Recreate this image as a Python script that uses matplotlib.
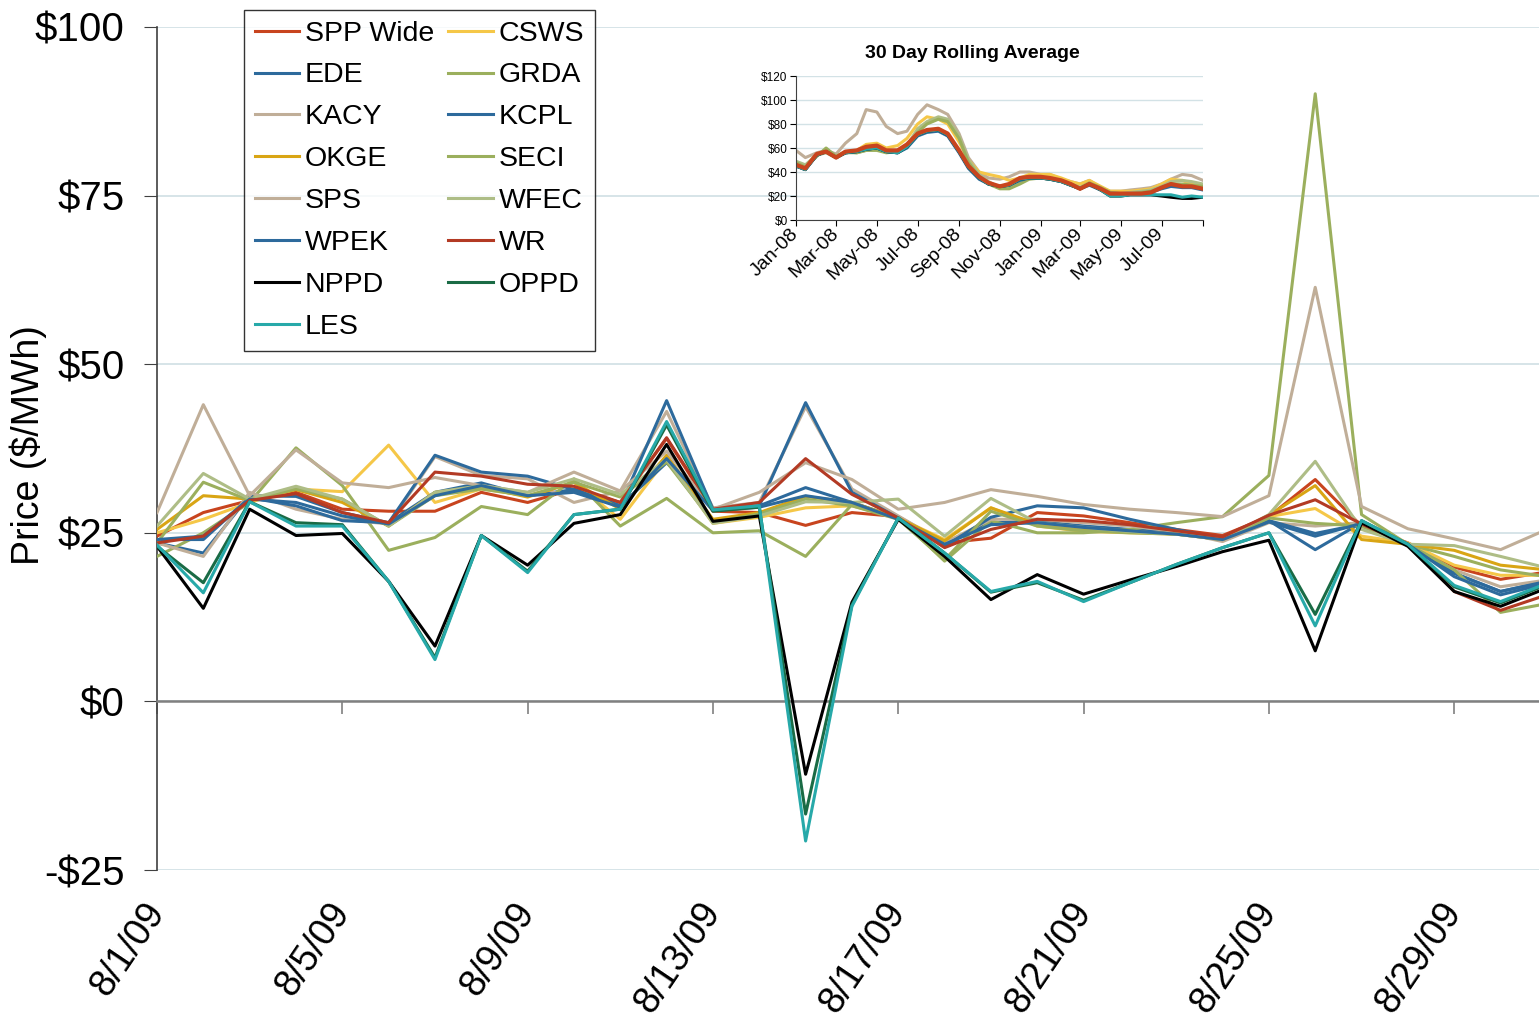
import matplotlib
matplotlib.use('Agg')
import matplotlib.pyplot as plt
import matplotlib.dates as mdates
import pandas as pd

plt.rcParams['font.family'] = ['Liberation Sans', 'DejaVu Sans']
plt.rcParams['text.parse_math'] = False

# daily prices, 8/1/09 .. 8/31/09 ($/MWh)
days = pd.date_range('2009-08-01', '2009-08-31', freq='D')

spp_wide = [24.5, 28.0, 29.8, 31.0, 28.5, 28.2, 28.2, 31.0, 29.5, 31.5, 29.5, 39.0, 28.2, 28.0, 26.1, 28.0,
            27.4, 23.5, 24.2, 28.0, 27.5, 26.5, 25.5, 24.6, 27.4, 32.9, 26.0, 23.5, 19.9, 18.1, 19.2]
csws = [25.0, 27.0, 29.5, 31.5, 31.1, 38.0, 29.5, 31.5, 30.5, 32.5, 27.0, 36.0, 26.4, 27.3, 28.7, 29.0,
        27.2, 24.0, 28.7, 26.0, 25.2, 25.0, 24.8, 24.2, 27.4, 28.6, 24.5, 23.5, 20.2, 18.7, 18.7]
ede = [23.5, 22.0, 30.5, 30.4, 28.0, 26.5, 31.0, 32.4, 30.5, 31.4, 29.0, 35.4, 28.5, 29.0, 31.7, 29.5,
       27.2, 23.5, 26.5, 26.7, 26.0, 25.5, 25.0, 24.1, 26.8, 22.5, 26.5, 23.3, 19.0, 16.3, 17.8]
grda = [21.5, 25.0, 29.5, 37.6, 32.0, 22.4, 24.3, 28.9, 27.7, 33.0, 26.0, 30.1, 25.0, 25.3, 21.5, 29.2,
        27.3, 20.8, 26.8, 25.0, 25.0, 25.5, 26.5, 27.4, 33.5, 90.1, 27.7, 23.3, 21.5, 19.5, 18.5]
kacy = [23.5, 21.5, 31.0, 28.5, 27.0, 26.3, 36.3, 33.5, 33.0, 29.5, 31.2, 43.0, 28.7, 29.5, 43.7, 31.5,
        27.5, 23.5, 27.0, 27.0, 26.5, 26.0, 25.2, 23.7, 26.5, 26.0, 26.5, 23.3, 19.5, 17.0, 18.0]
kcpl = [24.0, 24.0, 30.2, 29.0, 26.8, 26.5, 36.5, 34.0, 33.4, 31.4, 29.0, 44.6, 28.5, 29.0, 44.3, 31.0,
        27.2, 23.0, 27.3, 29.0, 28.7, 27.0, 25.5, 24.1, 26.8, 24.9, 26.3, 23.3, 19.0, 16.3, 17.8]
okge = [25.5, 30.5, 30.0, 31.4, 29.5, 26.0, 31.0, 31.8, 30.3, 32.5, 28.5, 36.5, 27.0, 28.0, 30.4, 29.5,
        27.2, 23.8, 28.7, 26.3, 25.5, 25.2, 24.8, 24.0, 27.6, 32.0, 24.0, 23.3, 22.4, 20.2, 19.5]
seci = [23.5, 32.5, 29.8, 31.5, 30.0, 26.0, 30.5, 31.5, 30.5, 32.5, 30.3, 35.5, 26.6, 27.8, 30.0, 29.0,
        27.0, 21.0, 28.2, 26.0, 25.3, 25.0, 24.8, 24.0, 27.2, 26.4, 26.0, 23.3, 19.5, 13.2, 14.5]
sps = [28.0, 44.0, 30.5, 37.3, 32.4, 31.7, 33.2, 32.0, 31.0, 34.0, 31.2, 37.1, 28.5, 31.0, 35.4, 32.9,
       28.5, 29.5, 31.4, 30.4, 29.2, 28.5, 28.0, 27.4, 30.5, 61.4, 28.9, 25.6, 24.1, 22.5, 25.5]
wfec = [26.0, 33.8, 30.0, 31.9, 30.0, 26.0, 31.0, 32.0, 31.0, 33.0, 30.7, 35.9, 26.4, 27.5, 29.6, 29.5,
        30.0, 24.5, 30.1, 26.5, 25.8, 25.2, 24.8, 24.0, 27.7, 35.6, 25.5, 23.3, 23.1, 21.5, 19.8]
wpek = [24.0, 24.5, 30.0, 29.5, 27.5, 26.3, 30.5, 32.0, 30.5, 31.0, 28.8, 36.0, 28.3, 28.8, 30.5, 29.5,
        27.0, 23.3, 26.2, 26.5, 25.8, 25.3, 24.8, 24.0, 26.6, 24.5, 26.4, 23.3, 18.5, 15.8, 17.5]
wr = [23.5, 24.5, 29.8, 30.8, 28.0, 26.5, 34.0, 33.4, 32.2, 31.9, 29.5, 39.1, 28.5, 29.5, 36.0, 30.7,
      27.2, 22.8, 25.5, 27.0, 26.8, 26.2, 25.3, 24.4, 27.6, 29.9, 26.3, 23.3, 16.3, 13.5, 15.8]
nppd = [23.0, 13.8, 28.5, 24.6, 24.9, 17.8, 8.2, 24.6, 20.2, 26.4, 27.7, 38.1, 26.7, 27.5, -10.8, 14.7,
        27.0, 21.5, 15.1, 18.8, 15.9, 18.0, 20.0, 22.2, 23.9, 7.5, 26.5, 23.0, 16.3, 14.1, 16.8]
oppd = [23.0, 17.6, 29.6, 26.5, 26.2, 17.8, 6.5, 24.6, 19.3, 27.7, 28.5, 41.0, 28.2, 28.8, -16.7, 14.3,
        27.2, 22.0, 16.2, 17.6, 15.0, 17.6, 20.3, 22.8, 25.0, 12.9, 26.8, 23.3, 17.0, 14.6, 17.3]
les = [23.2, 16.1, 29.6, 26.0, 26.0, 17.8, 6.2, 24.6, 19.1, 27.7, 28.5, 41.5, 28.4, 29.0, -20.7, 14.1,
       27.2, 22.0, 16.3, 17.8, 14.8, 17.6, 20.3, 22.8, 25.0, 11.2, 26.8, 23.3, 17.2, 14.8, 17.5]

names = ['SPP Wide', 'CSWS', 'EDE', 'GRDA', 'KACY', 'KCPL', 'OKGE', 'SECI',
         'SPS', 'WFEC', 'WPEK', 'WR', 'NPPD', 'OPPD', 'LES']
values = [spp_wide, csws, ede, grda, kacy, kcpl, okge, seci, sps, wfec, wpek, wr, nppd, oppd, les]
colors = ['#C8441E', '#F5C748', '#2D6A9C', '#9BAF5D', '#C0AE98', '#2D6A9C', '#D9A514', '#9BAF5D',
          '#C0AE98', '#AEBD86', '#2D6A9C', '#B33A24', '#000000', '#1A6B45', '#27A9A9']

# 30 day rolling averages, semi-monthly readings Jan-08 .. Sep-09
roll_dates = pd.date_range('2008-01-01', '2009-09-01', freq='SMS')
roll_sps = [58, 52, 56, 58, 55, 64, 72, 92, 90, 78, 72, 74, 88, 96, 92, 88, 72, 52, 40, 35, 34,
            36, 40, 40, 38, 38, 34, 32, 30, 33, 27, 24, 24, 25, 26, 27, 30, 34, 38, 37, 33]
roll_csws = [47, 45, 55, 57, 53, 57, 58, 63, 64, 60, 62, 68, 80, 86, 84, 80, 65, 50, 40, 38, 36,
             33, 35, 38, 38, 38, 35, 32, 30, 33, 28, 24, 24, 24, 25, 26, 30, 34, 33, 30, 28]
roll_wfec = [49, 46, 54, 56, 52, 56, 56, 58, 60, 57, 58, 62, 76, 82, 86, 84, 70, 50, 38, 32, 27,
             27, 32, 35, 36, 35, 33, 30, 27, 30, 26, 23, 22, 23, 24, 25, 28, 32, 33, 32, 30]
roll_seci = [48, 44, 53, 60, 53, 57, 56, 58, 58, 56, 57, 61, 73, 80, 84, 82, 68, 48, 36, 30, 26,
             26, 30, 34, 35, 34, 33, 30, 27, 31, 27, 23, 22, 22, 23, 24, 27, 30, 30, 29, 28]
roll_ede = [45, 42, 54, 57, 52, 56, 57, 59, 60, 57, 56, 60, 70, 73, 74, 70, 56, 43, 34, 30, 28,
            29, 33, 35, 35, 34, 32, 29, 26, 29, 25, 22, 21, 22, 22, 23, 26, 28, 27, 27, 25]
roll_nppd = [45, 42, 54, 57, 52, 56, 57, 59, 60, 57, 56, 61, 71, 74, 75, 71, 57, 44, 35, 30, 28,
             29, 34, 35, 35, 34, 32, 29, 26, 30, 25, 20, 20, 21, 21, 21, 20, 19, 18, 18, 19]
roll_les = [45, 42, 54, 57, 52, 56, 57, 59, 60, 57, 56, 61, 71, 74, 75, 71, 57, 44, 35, 30, 28,
            29, 34, 35, 35, 34, 32, 29, 26, 30, 25, 20, 20, 21, 21, 21, 21, 21, 19, 20, 19]
roll_spp = [46, 43, 55, 57, 52, 57, 58, 61, 62, 58, 58, 63, 72, 75, 76, 72, 58, 45, 36, 31, 28,
            30, 35, 36, 36, 35, 33, 30, 26, 30, 26, 22, 22, 22, 22, 23, 27, 30, 28, 28, 26]
roll_series = [(roll_sps, '#C0AE98'), (roll_csws, '#F5C748'), (roll_wfec, '#AEBD86'),
               (roll_seci, '#9BAF5D'), (roll_ede, '#2D6A9C'), (roll_nppd, '#000000'),
               (roll_les, '#27A9A9'), (roll_spp, '#C8441E')]

W, H = 1539, 1022
fig = plt.figure(figsize=(W / 100, H / 100), dpi=100)
ax = fig.add_axes([157 / W, 1 - 870 / H, (W - 157) / W, (870 - 27) / H])

x = mdates.date2num(days)
lines = []
for name, vals, c in zip(names, values, colors):
    ln, = ax.plot(x, vals, color=c, lw=2.2, label=name, zorder=3)
    lines.append(ln)

ax.set_xlim(x[0], x[0] + 29.83)
ax.set_ylim(-25, 100)
ax.set_yticks([-25, 0, 25, 50, 75, 100])
ax.set_yticklabels(['-$25', '$0', '$25', '$50', '$75', '$100'])
ax.yaxis.grid(True, color='#d3e2e6', lw=1.3)
ax.set_axisbelow(True)
ax.spines['top'].set_visible(False)
ax.spines['right'].set_visible(False)
ax.spines['left'].set_color('#404040')
ax.spines['left'].set_linewidth(1.2)
ax.spines['bottom'].set_position(('data', 0))
ax.spines['bottom'].set_color('#808080')
ax.spines['bottom'].set_linewidth(1.8)
ax.tick_params(axis='y', direction='out', length=9.5, color='#404040', labelsize=29, pad=14)

ticks = x[::4]
tick_labels = [f'{d.month}/{d.day}/{d:%y}' for d in days[::4]]
ax.set_xticks(ticks)
ax.tick_params(axis='x', direction='out', length=9, width=1.2, color='#808080', labelbottom=False)

sec = ax.secondary_xaxis(0.0)
sec.set_xticks(ticks, labels=tick_labels)
sec.tick_params(length=0, labelsize=27, pad=26)
sec.spines['bottom'].set_visible(False)
for lab in sec.get_xticklabels():
    lab.set_rotation(56)
    lab.set_ha('right')
    lab.set_va('center')
    lab.set_rotation_mode('anchor')

fig.text(28 / W, 1 - 445 / H, 'Price ($/MWh)', rotation=90, ha='center', va='center', fontsize=27)

# legend filled column by column to give the row-wise order of the original
col1 = [0, 2, 4, 6, 8, 10, 12, 14]
col2 = [1, 3, 5, 7, 9, 11, 13]
order = col1 + col2
leg = fig.legend([lines[i] for i in order], [names[i] for i in order],
                 loc='upper left', bbox_to_anchor=(244 / W, 1 - 10 / H), ncol=2,
                 fontsize=20.5, frameon=True, fancybox=False, edgecolor='black',
                 borderpad=0.37, labelspacing=0.56, handlelength=1.55, handletextpad=0.22,
                 columnspacing=0.5, borderaxespad=0)
leg.get_frame().set_linewidth(1.0)

# inset: 30 day rolling average
ax2 = fig.add_axes([796 / W, 1 - 220 / H, 407 / W, 144 / H])
rx = mdates.date2num(roll_dates)
for vals, c in roll_series:
    ax2.plot(rx, vals, color=c, lw=3.0 if c == '#C8441E' else 2.2)
ax2.set_ylim(0, 120)
ax2.set_yticks(range(0, 121, 20))
ax2.set_yticklabels([f'${v}' for v in range(0, 121, 20)])
month_ticks = pd.date_range('2008-01-01', '2009-09-01', freq='2MS')
ax2.set_xticks(mdates.date2num(month_ticks))
ax2.set_xticklabels([d.strftime('%b-%y') if d < month_ticks[-1] else '' for d in month_ticks])
ax2.set_xlim(rx[0], rx[-1])
ax2.yaxis.grid(True, color='#d3e2e6', lw=1.0)
ax2.set_axisbelow(True)
ax2.spines['top'].set_visible(False)
ax2.spines['right'].set_visible(False)
for s in ('left', 'bottom'):
    ax2.spines[s].set_color('#404040')
ax2.tick_params(axis='y', direction='out', length=4, labelsize=8.5, pad=2)
ax2.tick_params(axis='x', direction='out', length=4, labelsize=14, pad=4)
for lab in ax2.get_xticklabels():
    lab.set_rotation(45)
    lab.set_ha('right')
    lab.set_va('center')
    lab.set_rotation_mode('anchor')

fig.text(972 / W, 1 - 53 / H, '30 Day Rolling Average', fontweight='bold', fontsize=14,
         ha='center', va='center')

fig.savefig('out.png', dpi=100)
